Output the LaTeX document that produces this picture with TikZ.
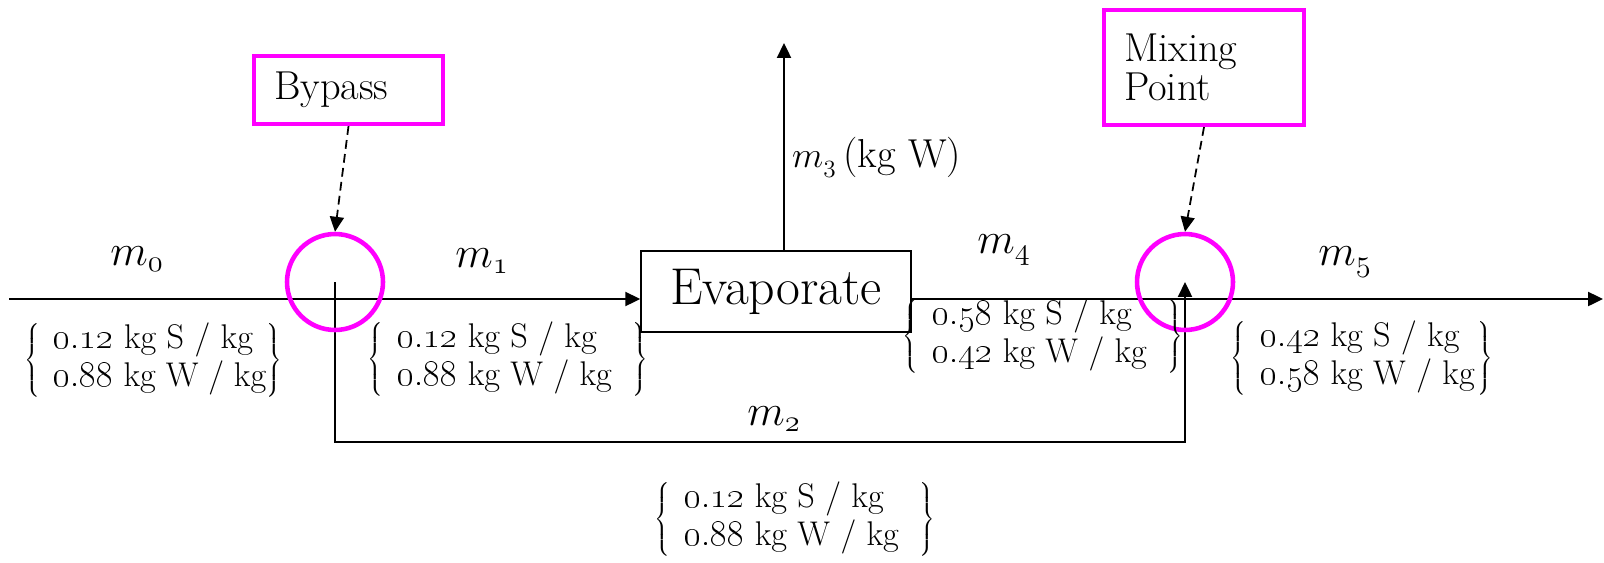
\documentclass[tikz,border=0pt]{standalone}
\usepackage{xcolor}
\usepackage{array}
\usetikzlibrary{arrows.meta, positioning}

\definecolor{callmag}{RGB}{255,0,255}
\newcommand{\fracpair}[3]{$\left\{\begin{tabular}{@{\hspace{8pt}}p{#3}@{}}\oldstylenums{#1} kg S / kg\\\oldstylenums{#2} kg W / kg\end{tabular}\right\}$}

\begin{document}
\begin{tikzpicture}[
  x=0.02cm, y=-0.02cm,
  arrow/.style={line width=1.1pt, -{Triangle[length=8.5pt, width=8pt]}},
  dasharrow/.style={arrow, line width=1pt, dash pattern=on 5pt off 3pt},
  junction/.style={circle, draw=callmag, line width=2.6pt, minimum size=1.92cm, inner sep=0pt},
  callout/.style={draw=callmag, line width=2.4pt, align=left, inner xsep=0.4cm, font=\fontsize{23}{22}\selectfont},
  stream/.style={anchor=base, font=\fontsize{23}{27}\selectfont},
  frac/.style={inner sep=0pt, font=\fontsize{19.5}{21.5}\selectfont}
]
  \useasboundingbox (0,0) rectangle (1604,562);

  \coordinate (feed) at (9,299);
  \coordinate (product) at (1603,299);
  \coordinate (vapour) at (784,43);
  \coordinate (splitpt) at (335,282);
  \coordinate (mixpt) at (1185,282);
  \coordinate (bend) at (335,442);

  \node (evap) [draw, line width=0.9pt, minimum width=5.4cm, minimum height=1.62cm, font=\fontsize{29.5}{32}\selectfont] at (776,291.5) {Evaporate};

  \draw [arrow] (feed) -- (feed -| evap.west);
  \draw [arrow] (evap.east |- feed) -- (product);
  \draw [arrow] (vapour |- evap.north) -- (vapour);
  \draw [arrow] (splitpt) -- (bend) -| (mixpt);

  \node (split) [junction] at (splitpt) {};
  \node (mix) [junction] at (mixpt) {};

  \node (bypass) [callout, minimum height=1.36cm, text width=2.98cm] at (348.5,90) {Bypass};
  \node (mixlabel) [callout, minimum height=2.3cm, text width=3.2cm] at (1204,67.5) {Mixing\\Point};

  \draw [dasharrow] (bypass.south) -- (split.north);
  \draw [dasharrow] (mixlabel.south) -- (mix.north);

  % stream labels
  \node (m0) [stream] at (137,265) {$m_{\mathnormal{0}}$};
  \node (m1) [stream] at (482,267) {$m_{\mathnormal{1}}$};
  \node (m2) [stream] at (774,425) {$m_{\mathnormal{2}}$};
  \node (m3) [stream, anchor=base west] at (786,167) {{\fontsize{20}{24}\selectfont$m_{\mathnormal{3}}$}\,(kg W)};
  \node (m4) [stream] at (1004,253) {$m_{\mathnormal{4}}$};
  \node (m5) [stream] at (1345,265) {$m_{\mathnormal{5}}$};

  % compositions
  \node (f0) [frac] at (153,360) {\fracpair{0.12}{0.88}{4.25cm}};
  \node (f1) [frac] at (508,359) {\fracpair{0.12}{0.88}{4.7cm}};
  \node (f4) [frac] at (1043,336) {\fracpair{0.58}{0.42}{4.7cm}};
  \node (f5) [frac] at (1362,358) {\fracpair{0.42}{0.58}{4.35cm}};
  \node (f2) [frac] at (795,519) {\fracpair{0.12}{0.88}{4.7cm}};
\end{tikzpicture}
\end{document}
